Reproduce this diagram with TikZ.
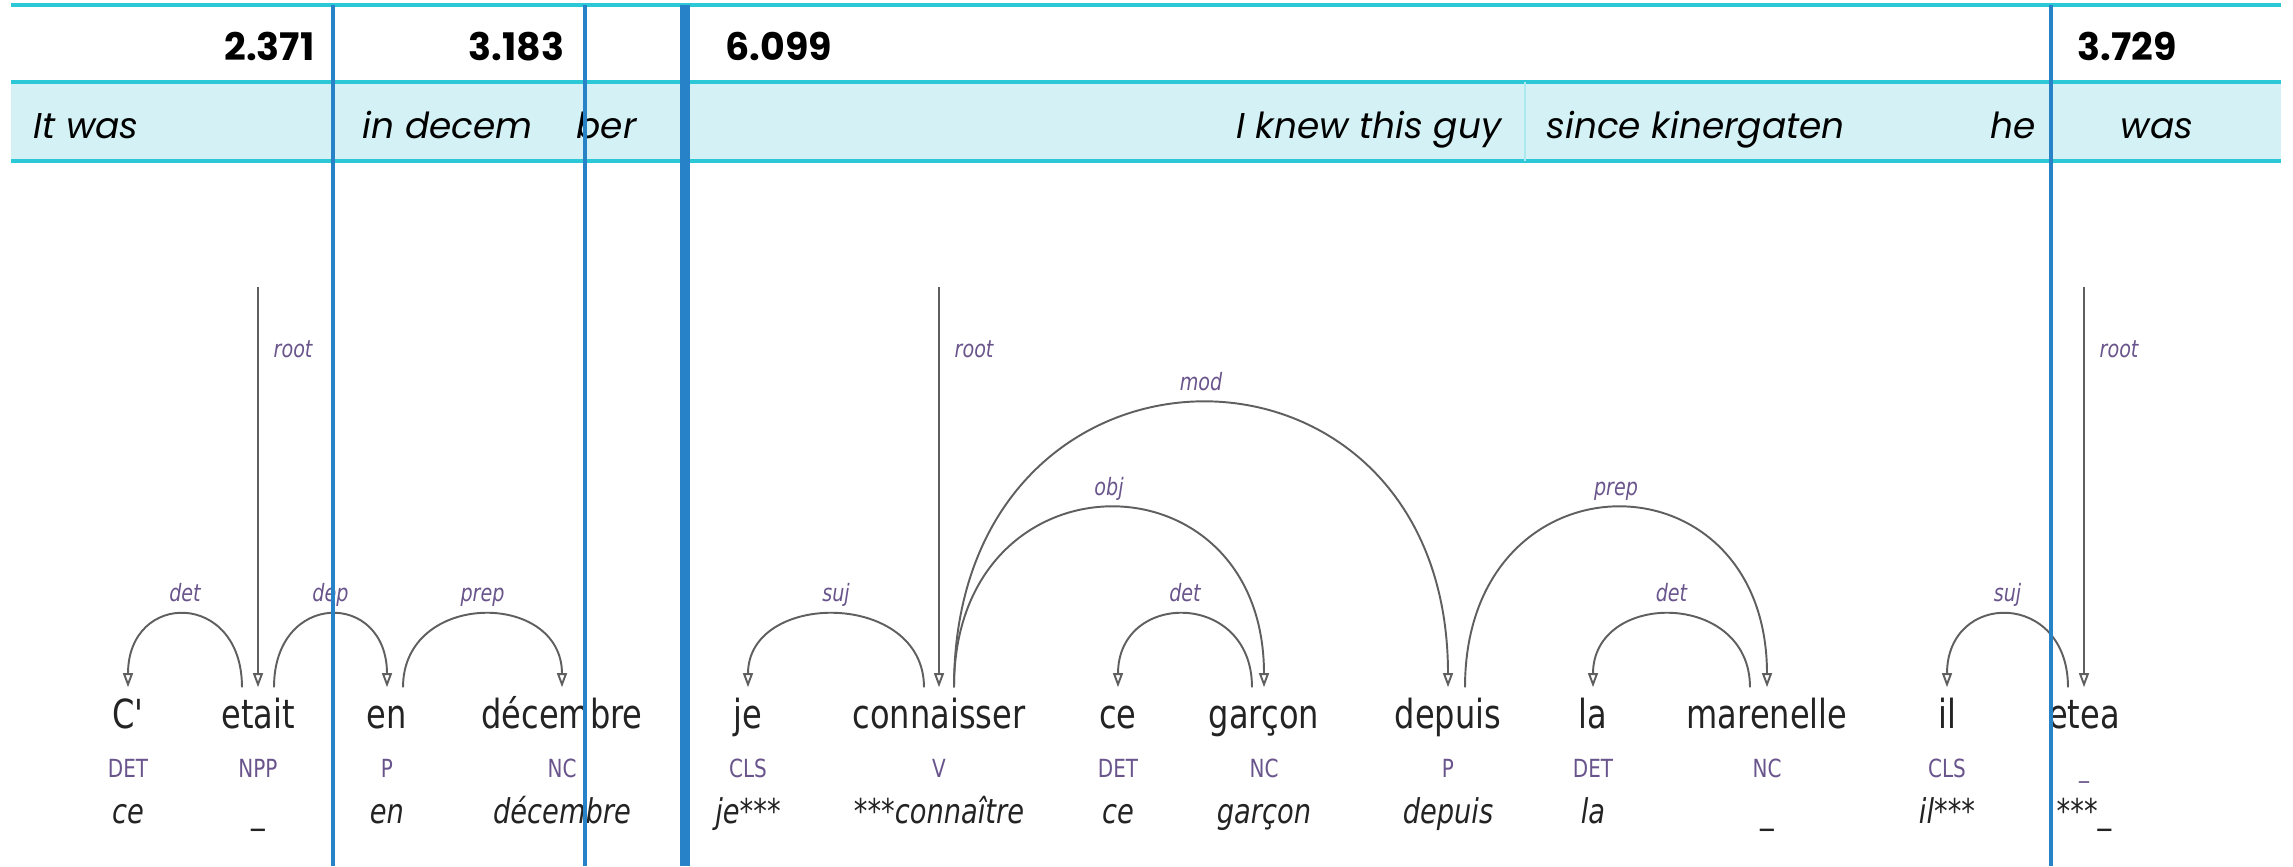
\documentclass[tikz,border=0pt]{standalone}
\usepackage{fontspec}
\usetikzlibrary{arrows.meta}
\newfontfamily\parsefont[FakeStretch=0.8]{DejaVu Sans}
\newfontfamily\tabfont{Poppins}
\definecolor{tabline}{RGB}{45,200,215}
\definecolor{tabfill}{RGB}{212,242,245}
\definecolor{sepblue}{RGB}{40,130,200}
\definecolor{arcgray}{RGB}{95,95,95}
\definecolor{deplbl}{RGB}{105,85,140}
\definecolor{wordgray}{RGB}{35,35,35}

\begin{document}
\begin{tikzpicture}[x=0.01cm, y=-0.01cm,
  num/.style={font=\tabfont\bfseries\fontsize{10.8}{12}\selectfont, inner sep=0},
  gloss/.style={font=\tabfont\itshape\fontsize{10.2}{12}\selectfont, inner sep=0},
  word/.style={font=\parsefont\fontsize{11.4}{13}\selectfont, text=wordgray, inner sep=0, text height=0.4cm, anchor=base},
  tag/.style={font=\parsefont\fontsize{7.1}{8}\selectfont, text=deplbl, inner sep=0, anchor=base},
  lemma/.style={font=\parsefont\itshape\fontsize{9.7}{11}\selectfont, text=wordgray, inner sep=0, anchor=base},
  deparc/.style={draw=arcgray, line width=0.55pt, -{Triangle[open,length=4pt,width=2.8pt]}},
  arclbl/.style={font=\parsefont\itshape\fontsize{6.8}{8}\selectfont, text=deplbl, inner sep=0, anchor=base, midway, yshift=1.3mm},
  rootlbl/.style={font=\parsefont\itshape\fontsize{6.8}{8}\selectfont, text=deplbl, inner sep=0, anchor=base west},
  thinsep/.style={draw=sepblue, line width=1.15pt},
  thicksep/.style={draw=sepblue, line width=2.9pt}]
\useasboundingbox (0,0) rectangle (2293,866);

% table at the top
\fill[tabfill] (11,82) rectangle (2281,161);
\draw[tabline, line width=0.9pt] (11,5) -- (2281,5);
\draw[tabline, line width=0.9pt] (11,82) -- (2281,82);
\draw[tabline, line width=0.9pt] (11,161) -- (2281,161);
\draw[tabline!40, line width=0.4pt] (1525,82) -- (1525,161);

\node[num, anchor=base east](N1) at (315,60){2.371};
\node[num, anchor=base east](N2) at (565,60){3.183};
\node[num, anchor=base west](N3) at (725,60){6.099};
\node[num, anchor=base west](N4) at (2077,60){3.729};

\node[gloss, anchor=base west](E1) at (33,138){It was};
\node[gloss, anchor=base west](E2) at (362,138){in decem};
\node[gloss, anchor=base west](E3) at (576,138){ber};
\node[gloss, anchor=base east](E4) at (1502,138){I knew this guy};
\node[gloss, anchor=base west](E5) at (1546,138){since kinergaten};
\node[gloss, anchor=base east](E6) at (2036,138){he};
\node[gloss, anchor=base west](E7) at (2120,138){was};

% words, tags, lemmas
\node[word](W1) at (128,728){C'};
\node[word](W2) at (258,728){etait};
\node[word](W3) at (387,728){en};
\node[word](W4) at (562,728){décembre};
\node[word](W5) at (748,728){je};
\node[word](W6) at (939,728){connaisser};
\node[word](W7) at (1118,728){ce};
\node[word](W8) at (1264,728){garçon};
\node[word](W9) at (1448,728){depuis};
\node[word](W10) at (1593,728){la};
\node[word](W11) at (1767,728){marenelle};
\node[word](W12) at (1947,728){il};
\node[word](W13) at (2084,728){etea};

\node[tag](T1) at (128,777){DET};
\node[tag](T2) at (258,777){NPP};
\node[tag](T3) at (387,777){P};
\node[tag](T4) at (562,777){NC};
\node[tag](T5) at (748,777){CLS};
\node[tag](T6) at (939,777){V};
\node[tag](T7) at (1118,777){DET};
\node[tag](T8) at (1264,777){NC};
\node[tag](T9) at (1448,777){P};
\node[tag](T10) at (1593,777){DET};
\node[tag](T11) at (1767,777){NC};
\node[tag](T12) at (1947,777){CLS};
\node[tag](T13) at (2084,777){\_};

\node[lemma](M1) at (128,823){ce};
\node[lemma](M2) at (258,823){\_};
\node[lemma](M3) at (387,823){en};
\node[lemma](M4) at (562,823){décembre};
\node[lemma](M5) at (748,823){je***};
\node[lemma](M6) at (939,823){***connaître};
\node[lemma](M7) at (1118,823){ce};
\node[lemma](M8) at (1264,823){garçon};
\node[lemma](M9) at (1448,823){depuis};
\node[lemma](M10) at (1593,823){la};
\node[lemma](M11) at (1767,823){\_};
\node[lemma](M12) at (1947,823){il***};
\node[lemma](M13) at (2084,823){***\_};

% root arrows
\coordinate (R1) at (258,287);
\coordinate (R2) at (939,287);
\coordinate (R3) at (2084,287);
\draw[deparc] (R1) -- (W2.north);
\draw[deparc] (R2) -- (W6.north);
\draw[deparc] (R3) -- (W13.north);
\node[rootlbl](RL1) at (273,357){root};
\node[rootlbl](RL2) at (954,357){root};
\node[rootlbl](RL3) at (2099,357){root};

% dependency arcs
\draw[deparc] ([xshift=-0.16cm]W2.north) .. controls +(0,-97) and +(0,-97) .. (W1.north) node[arclbl]{det};
\draw[deparc] ([xshift=0.16cm]W2.north) .. controls +(0,-97) and +(0,-97) .. (W3.north) node[arclbl]{dep};
\draw[deparc] ([xshift=0.16cm]W3.north) .. controls +(0,-97) and +(0,-97) .. (W4.north) node[arclbl]{prep};
\draw[deparc] ([xshift=-0.15cm]W6.north) .. controls +(0,-97) and +(0,-97) .. (W5.north) node[arclbl]{suj};
\draw[deparc] ([xshift=0.15cm]W6.north) .. controls +(0,-239) and +(0,-239) .. (W8.north) node[arclbl]{obj};
\draw[deparc] ([xshift=0.15cm]W6.north) .. controls +(0,-379) and +(0,-379) .. (W9.north) node[arclbl]{mod};
\draw[deparc] ([xshift=-0.12cm]W8.north) .. controls +(0,-97) and +(0,-97) .. (W7.north) node[arclbl]{det};
\draw[deparc] ([xshift=0.17cm]W9.north) .. controls +(0,-239) and +(0,-239) .. (W11.north) node[arclbl]{prep};
\draw[deparc] ([xshift=-0.17cm]W11.north) .. controls +(0,-97) and +(0,-97) .. (W10.north) node[arclbl]{det};
\draw[deparc] ([xshift=-0.16cm]W13.north) .. controls +(0,-97) and +(0,-97) .. (W12.north) node[arclbl]{suj};

% blue separators on top
\draw[thinsep] (333,5) -- (333,866);
\draw[thinsep] (585,5) -- (585,866);
\draw[thicksep] (685,5) -- (685,866);
\draw[thinsep] (2051,5) -- (2051,866);
\end{tikzpicture}
\end{document}
